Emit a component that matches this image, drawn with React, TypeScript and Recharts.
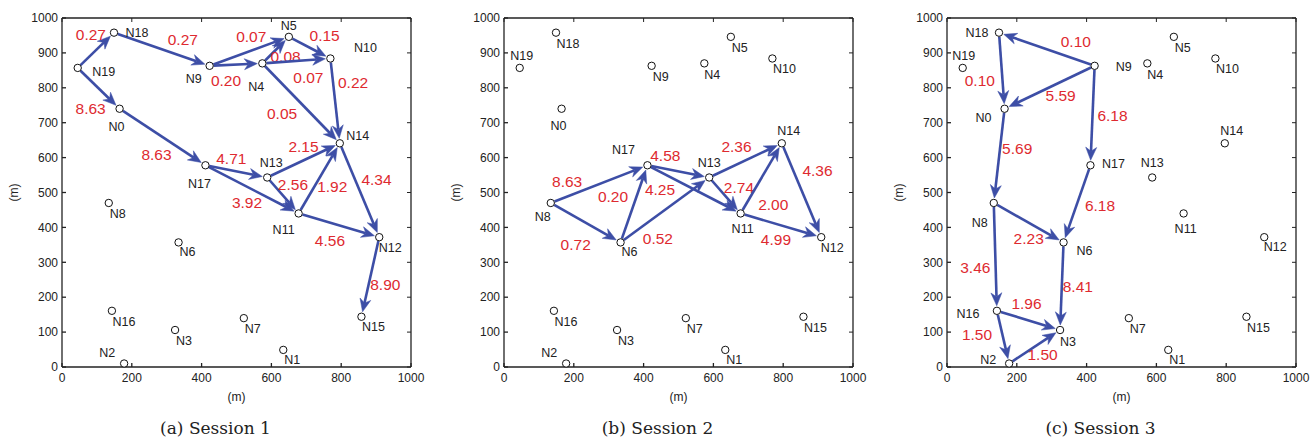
import React from 'react';
import { ScatterChart, Scatter, XAxis, YAxis, ReferenceLine, ReferenceDot } from 'recharts';

// node positions (m)
const nodeNames = ['N0', 'N1', 'N2', 'N3', 'N4', 'N5', 'N6', 'N7', 'N8', 'N9', 'N10', 'N11', 'N12', 'N13', 'N14', 'N15', 'N16', 'N17', 'N18', 'N19'];
const nodeX = [165, 634, 178, 324, 574, 650, 334, 521, 134, 423, 769, 678, 909, 588, 796, 858, 143, 411, 149, 45];
const nodeY = [740, 49, 10, 106, 870, 946, 357, 140, 470, 863, 884, 440, 372, 543, 641, 144, 161, 578, 958, 857];

const xTicks = [0, 200, 400, 600, 800, 1000];
const yTicks = [0, 100, 200, 300, 400, 500, 600, 700, 800, 900, 1000];

// session links: [from, to] and weights
const session1Links = [[19, 18], [18, 9], [19, 0], [0, 17], [9, 5], [9, 4], [4, 5], [5, 10], [4, 10], [10, 14], [4, 14], [17, 13], [17, 11], [13, 14], [13, 11], [11, 14], [14, 12], [11, 12], [12, 15]];
const session1Weights = [0.27, 0.27, 8.63, 8.63, 0.07, 0.2, 0.08, 0.15, 0.07, 0.22, 0.05, 4.71, 3.92, 2.15, 2.56, 1.92, 4.34, 4.56, 8.9];

const session2Links = [[8, 17], [8, 6], [6, 17], [6, 13], [17, 13], [17, 11], [13, 14], [13, 11], [11, 14], [14, 12], [11, 12]];
const session2Weights = [8.63, 0.72, 0.2, 0.52, 4.58, 4.25, 2.36, 2.74, 2.0, 4.36, 4.99];

const session3Links = [[9, 18], [18, 0], [9, 0], [9, 17], [0, 8], [17, 6], [8, 6], [8, 16], [6, 3], [16, 3], [16, 2], [2, 3]];
const session3Weights = [0.1, 0.1, 5.59, 6.18, 5.69, 6.18, 2.23, 3.46, 8.41, 1.96, 1.5, 1.5];

// label placement (px offsets)
const weightOffsets1 = [[-5, -16], [21, -10], [-8, 20], [-6, 17], [2, -15], [-10, 16], [10, 6], [15, -12], [12, 17], [18, -18], [-19, 10], [-5, -13], [-5, 13], [0, -14], [10, -11], [13, 8], [17, -11], [-9, 15], [15, 8]];
const weightOffsets2 = [[-32, -3], [-10, 22], [-21, -7], [-7, 29], [-13, -16], [-34, 0], [-9, -14], [14, -8], [12, 26], [16, -20], [-5, 14]];
const weightOffsets3 = [[29, -8], [-22, 10], [11, 8], [20, 0], [18, -7], [23, 2], [0, 16], [-20, 11], [16, 0], [-2, -17], [-26, -3], [8, 8]];

const nameOffsets1 = [[-3, 18], [9, 10], [-17, -11], [9, 11], [-6, 24], [0, -11], [9, 10], [9, 11], [9, 11], [-16, 13], [35, -10], [-15, 17], [11, 11], [4, -14], [18, -7], [12, 10], [12, 11], [-6, 19], [23, 0], [26, 4]];
const nameOffsets2 = [[-3, 17], [9, 10], [-17, -11], [9, 11], [8, 12], [9, 11], [9, 10], [9, 11], [-8, 14], [9, 11], [12, 11], [2, 16], [11, 11], [0, -14], [7, -12], [12, 11], [12, 11], [-24, -15], [12, 11], [2, -12]];
const nameOffsets3 = [[-21, 9], [9, 10], [-21, -4], [8, 12], [8, 12], [9, 11], [21, 9], [9, 11], [-14, 20], [29, 1], [12, 11], [2, 16], [11, 10], [0, -14], [7, -12], [12, 11], [-29, 3], [23, -1], [-22, 0], [1, -12]];

const BLUE = '#3d4ea6';
const RED = '#de2a30';
const AXIS = '#222';
const FONT = '"Liberation Sans", Arial, sans-serif';

const nodes = nodeNames.map((name, i) => ({ x: nodeX[i], y: nodeY[i], name, idx: i }));

const arrowShape = (label: string, off: number[]) => (p: any) => {
  const { x1, y1, x2, y2 } = p;
  const dx = x2 - x1;
  const dy = y2 - y1;
  const len = Math.hypot(dx, dy) || 1;
  const ux = dx / len;
  const uy = dy / len;
  const nx = -uy;
  const ny = ux;
  const sx = x1 + ux * 4;
  const sy = y1 + uy * 4;
  const tx = x2 - ux * 5;
  const ty = y2 - uy * 5;
  const headL = 13;
  const headW = 5.5;
  const notch = 9;
  const bx = tx - ux * headL;
  const by = ty - uy * headL;
  const mx = tx - ux * notch;
  const my = ty - uy * notch;
  const pts = `${tx},${ty} ${bx + nx * headW},${by + ny * headW} ${mx},${my} ${bx - nx * headW},${by - ny * headW}`;
  return (
    <g>
      <line x1={sx} y1={sy} x2={mx} y2={my} stroke={BLUE} strokeWidth={2.6} />
      <polygon points={pts} fill={BLUE} stroke={BLUE} strokeWidth={0.5} />
      <text
        x={(x1 + x2) / 2 + off[0]}
        y={(y1 + y2) / 2 + off[1]}
        textAnchor="middle"
        dominantBaseline="central"
        fill={RED}
        fontSize={15.5}
        fontFamily={FONT}
      >
        {label}
      </text>
    </g>
  );
};

const nodeShape = (offsets: number[][]) => (p: any) => {
  const off = offsets[p.payload.idx];
  return (
    <g>
      <circle cx={p.cx} cy={p.cy} r={3.7} fill="#fff" stroke="#111" strokeWidth={1} />
      <text
        x={p.cx + off[0]}
        y={p.cy + off[1]}
        textAnchor="middle"
        dominantBaseline="central"
        fill="#222"
        fontSize={12.5}
        fontFamily={FONT}
      >
        {p.payload.name}
      </text>
    </g>
  );
};

// inward tick marks on the top and right edges of the box
const topTick = (p: any) => <line x1={p.cx} y1={p.cy} x2={p.cx} y2={p.cy + 4} stroke={AXIS} strokeWidth={1} />;
const rightTick = (p: any) => <line x1={p.cx} y1={p.cy} x2={p.cx - 4} y2={p.cy} stroke={AXIS} strokeWidth={1} />;

interface PanelProps {
  left: number;
  caption: string;
  links: number[][];
  weights: number[];
  weightOffsets: number[][];
  nameOffsets: number[][];
}

const tickStyle = { fill: '#222', fontSize: 12, fontFamily: FONT };

const SessionPanel = ({ left, caption, links, weights, weightOffsets, nameOffsets }: PanelProps) => (
  <div style={{ position: 'absolute', left, top: 0, width: 431, height: 437 }}>
    <ScatterChart width={431} height={410} margin={{ top: 18, right: 20, bottom: 0, left: 20 }}>
      <XAxis
        type="number"
        dataKey="x"
        domain={[0, 1000]}
        ticks={xTicks}
        height={43}
        tickSize={-4}
        tickMargin={10}
        stroke={AXIS}
        strokeWidth={1.3}
        tick={tickStyle}
        label={{ value: '(m)', position: 'insideBottom', offset: 9, fill: '#222', fontSize: 12, fontFamily: FONT }}
      />
      <YAxis
        type="number"
        dataKey="y"
        domain={[0, 1000]}
        ticks={yTicks}
        width={42}
        tickSize={-4}
        tickMargin={8}
        stroke={AXIS}
        strokeWidth={1.3}
        tick={tickStyle}
        label={{ value: '(m)', angle: -90, position: 'insideLeft', offset: -6, fill: '#222', fontSize: 12, fontFamily: FONT, style: { textAnchor: 'middle' } }}
      />
      <ReferenceLine y={1000} stroke={AXIS} strokeWidth={1.3} ifOverflow="visible" />
      <ReferenceLine x={1000} stroke={AXIS} strokeWidth={1.3} ifOverflow="visible" />
      {xTicks.map((t) => (
        <ReferenceDot key={'tx' + t} x={t} y={1000} r={0} ifOverflow="visible" shape={topTick} />
      ))}
      {yTicks.map((t) => (
        <ReferenceDot key={'ty' + t} x={1000} y={t} r={0} ifOverflow="visible" shape={rightTick} />
      ))}
      {links.map(([a, b], i) => (
        <ReferenceLine
          key={i}
          ifOverflow="visible"
          segment={[{ x: nodeX[a], y: nodeY[a] }, { x: nodeX[b], y: nodeY[b] }]}
          shape={arrowShape(weights[i].toFixed(2), weightOffsets[i])}
        />
      ))}
      <Scatter data={nodes} isAnimationActive={false} shape={nodeShape(nameOffsets)} />
    </ScatterChart>
    <div
      style={{
        position: 'absolute',
        top: 418,
        left: 0,
        width: 431,
        textAlign: 'center',
        lineHeight: '20px',
        fontFamily: '"DejaVu Serif", serif',
        fontSize: 17,
        color: '#222',
      }}
    >
      {caption}
    </div>
  </div>
);

export default function App() {
  return (
    <div style={{ position: 'absolute', left: 0, top: 0, width: 1311, height: 437, background: '#fff' }}>
      <SessionPanel left={0} caption="(a) Session 1" links={session1Links} weights={session1Weights} weightOffsets={weightOffsets1} nameOffsets={nameOffsets1} />
      <SessionPanel left={442} caption="(b) Session 2" links={session2Links} weights={session2Weights} weightOffsets={weightOffsets2} nameOffsets={nameOffsets2} />
      <SessionPanel left={885} caption="(c) Session 3" links={session3Links} weights={session3Weights} weightOffsets={weightOffsets3} nameOffsets={nameOffsets3} />
    </div>
  );
}
